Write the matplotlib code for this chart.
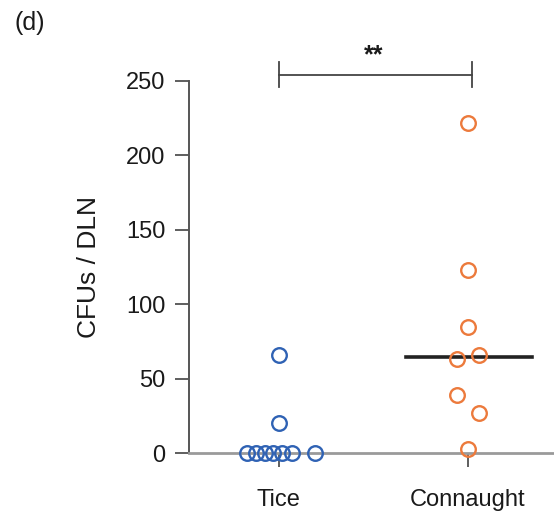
import numpy as np
import matplotlib.pyplot as plt

plt.rcParams['font.family'] = ['Liberation Sans', 'DejaVu Sans']

groups = ['Tice', 'Connaught']
tice = [0, 0, 0, 0, 0, 0, 0, 20, 66]
connaught = [222, 123, 85, 66, 63, 39, 27, 3]
# horizontal scatter offsets (swarm spread), in category units
tice_dx = [-0.17, -0.12, -0.075, -0.03, 0.015, 0.068, 0.19, 0.0, 0.0]
conn_dx = [0.0, 0.0, 0.0, 0.058, -0.058, -0.058, 0.058, 0.0]
blue = '#2f62b4'
orange = '#ec7a3c'

fig = plt.figure(figsize=(5.54, 5.11), dpi=100)
ax = fig.add_axes([0.341, 0.1135, 0.659, 0.728])

ax.plot(np.array(tice_dx) + 0, tice, 'o', mfc='none', mec=blue, ms=10.5,
        mew=1.7, clip_on=False, zorder=3)
ax.plot(np.array(conn_dx) + 1, connaught, 'o', mfc='none', mec=orange,
        ms=10.5, mew=1.7, clip_on=False, zorder=3)

med = np.median(connaught)
ax.plot([1 - 0.33, 1 + 0.34], [med, med], color='#222222', lw=2.6, zorder=2)

ax.set_xlim(-0.476, 1.455)
ax.set_ylim(0, 250)
ax.set_yticks([0, 50, 100, 150, 200, 250])
ax.set_xticks([0, 1])
ax.set_xticklabels(groups)
ax.tick_params(axis='both', labelsize=17, length=10, width=1.1,
               color='#333333', labelcolor='#1a1a1a')
ax.tick_params(axis='y', pad=7)
ax.tick_params(axis='x', pad=16)

for s in ['top', 'right']:
    ax.spines[s].set_visible(False)
ax.spines['left'].set_color('#555555')
ax.spines['left'].set_linewidth(1.4)
ax.spines['bottom'].set_color('#9a9a9a')
ax.spines['bottom'].set_linewidth(2)

ax.set_ylabel('CFUs / DLN', fontsize=19, color='#1a1a1a', labelpad=18)

# significance bracket
yb = 254
ax.plot([0, 1.02], [yb, yb], color='#444444', lw=1.3, clip_on=False)
ax.plot([0, 0], [yb - 8, yb + 8.5], color='#444444', lw=1.3, clip_on=False)
ax.plot([1.02, 1.02], [yb - 8, yb + 8.5], color='#444444', lw=1.3, clip_on=False)
ax.text(0.5, yb + 5, '**', ha='center', va='bottom', fontsize=18,
        fontweight='bold', color='#1a1a1a')

fig.text(0.027, 0.955, '(d)', fontsize=18, color='#1a1a1a', va='center')

fig.savefig('out.png', dpi=100)
